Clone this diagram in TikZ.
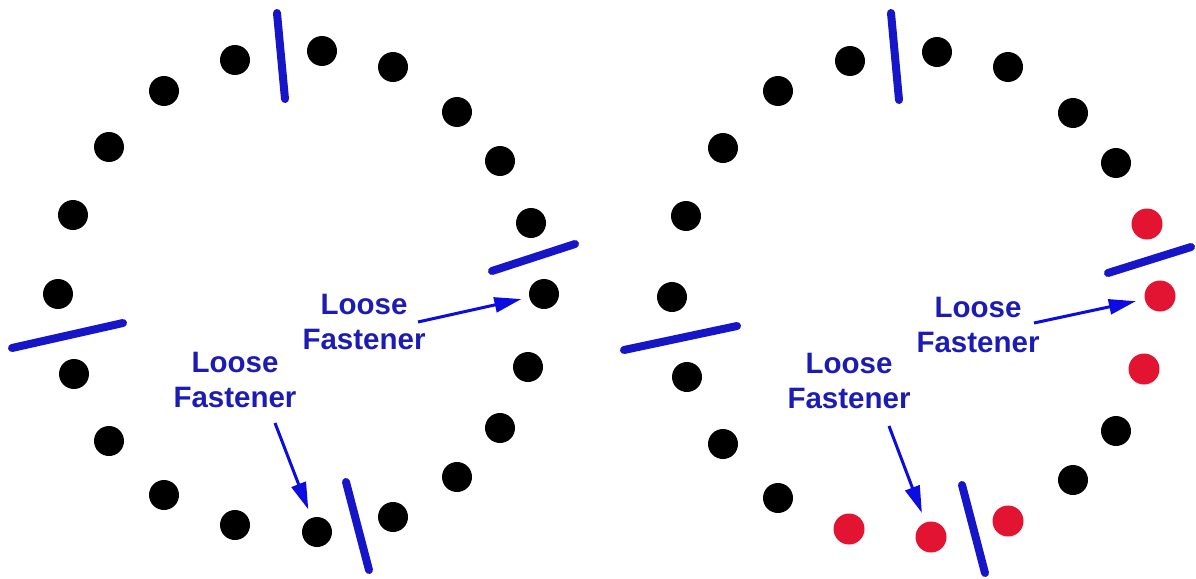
\documentclass[tikz,border=0pt]{standalone}
\usepackage{fontspec}
\setmainfont{Liberation Sans}
\usetikzlibrary{arrows.meta}
\definecolor{txtblue}{RGB}{28,28,180}
\definecolor{barblue}{RGB}{22,22,200}
\definecolor{arrblue}{RGB}{12,12,225}
\definecolor{dotred}{RGB}{226,20,50}
\tikzset{
  dot/.style={circle,fill=black,minimum size=30pt,inner sep=0pt},
  rdot/.style={circle,fill=dotred,minimum size=31pt,inner sep=0pt},
  bar/.style={draw=barblue,line width=8pt,line cap=round},
  lbl/.style={text=txtblue,font=\fontsize{29.5}{35}\selectfont\bfseries,align=center,inner sep=0pt},
  arr/.style={draw=arrblue,line width=3pt,-{Triangle[length=27pt,width=15pt]}}
}
\begin{document}
\begin{tikzpicture}[x=1pt,y=-1pt]
\useasboundingbox (0,0) rectangle (1196,578);
% left ring
\foreach \n/\x/\y in {1/235/60,2/322/51,3/393/67,4/457/112,5/500/161,6/531/223,7/544/294,8/528/367,9/500/428,10/457/477,11/393/517,12/317/532,13/235/525,14/164/495,15/109/441,16/74/374,17/58/294,18/73/215,19/109/147,20/164/91}
  \node[dot] (L\n) at (\x,\y) {};
\coordinate (LbT1) at (277,13); \coordinate (LbT2) at (285,99);
\coordinate (LbR1) at (492,271); \coordinate (LbR2) at (575,244);
\coordinate (LbL1) at (12,348); \coordinate (LbL2) at (123,323);
\coordinate (LbB1) at (346,482); \coordinate (LbB2) at (369,570);
\draw[bar] (LbT1) -- (LbT2);
\draw[bar] (LbR1) -- (LbR2);
\draw[bar] (LbL1) -- (LbL2);
\draw[bar] (LbB1) -- (LbB2);
\node[lbl] (La) at (364,322) {Loose\\Fastener};
\node[lbl] (Lb) at (235,380) {Loose\\Fastener};
\coordinate (Las) at (418,322);
\coordinate (Lbs) at (275,423);
\draw[arr,shorten >=8pt] (Las) -- (L7);
\draw[arr,shorten >=9pt] (Lbs) -- (L12);
% right ring
\foreach \n/\x/\y in {1/850/61,2/937/52,3/1008/67,4/1073/113,5/1116/163,9/1116/431,10/1073/480,14/778/498,15/723/444,16/687/377,17/672/297,18/686/216,19/723/148,20/778/91}
  \node[dot] (R\n) at (\x,\y) {};
\foreach \n/\x/\y in {6/1147/224,7/1160/296,8/1144/369,11/1008/521,12/931/537,13/849/529}
  \node[rdot] (R\n) at (\x,\y) {};
\coordinate (RbT1) at (891,13); \coordinate (RbT2) at (899,100);
\coordinate (RbR1) at (1108,273); \coordinate (RbR2) at (1191,247);
\coordinate (RbL1) at (624,350); \coordinate (RbL2) at (737,326);
\coordinate (RbB1) at (962,485); \coordinate (RbB2) at (985,573);
\draw[bar] (RbT1) -- (RbT2);
\draw[bar] (RbR1) -- (RbR2);
\draw[bar] (RbL1) -- (RbL2);
\draw[bar] (RbB1) -- (RbB2);
\node[lbl] (Ra) at (978,325) {Loose\\Fastener};
\node[lbl] (Rb) at (849,381) {Loose\\Fastener};
\coordinate (Ras) at (1034,323);
\coordinate (Rbs) at (889,426);
\draw[arr,shorten >=9pt] (Ras) -- (R7);
\draw[arr,shorten >=10pt] (Rbs) -- (R12);
\end{tikzpicture}
\end{document}
